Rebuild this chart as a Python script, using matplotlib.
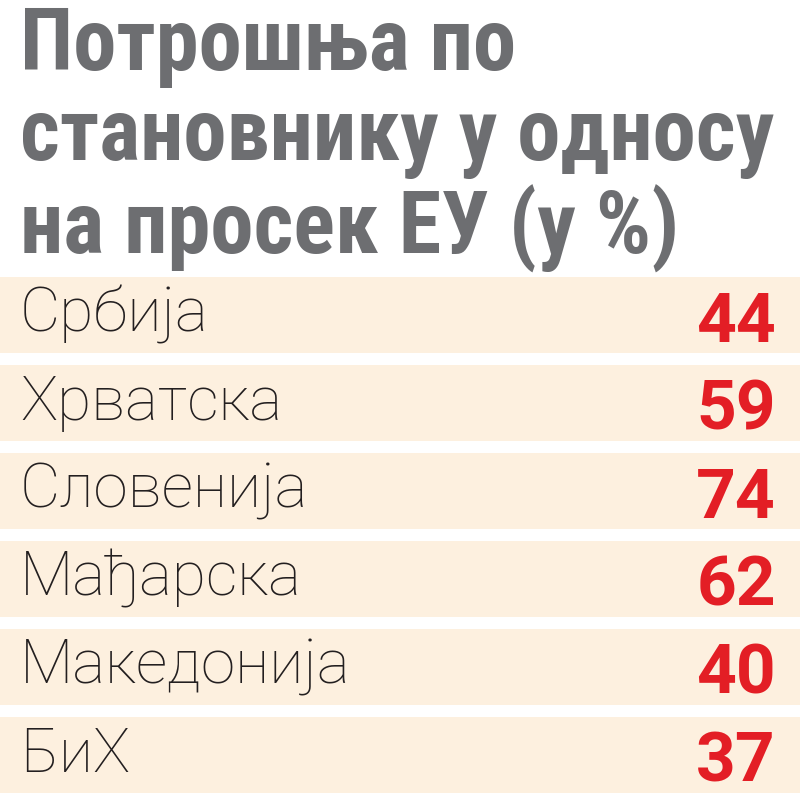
import matplotlib
matplotlib.use("Agg")
import matplotlib.pyplot as plt

# data
title_lines = ["Потрошња по", "становнику у односу", "на просек ЕУ (у %)"]
countries = ["Србија", "Хрватска", "Словенија", "Мађарска", "Македонија", "БиХ"]
values = [44, 59, 74, 62, 40, 37]

title_color = "#6d6e71"
band_color = "#fdf0df"
num_color = "#e31e25"
fam_title = ["Roboto Condensed", "Roboto", "DejaVu Sans"]
fam_num = ["Roboto", "DejaVu Sans"]
fam_light = ["Roboto", "DejaVu Sans"]

W, H = 800, 800
fig = plt.figure(figsize=(8, 8), dpi=100)
ax = fig.add_axes([0, 0, 1, 1])
ax.set_xlim(0, W)
ax.set_ylim(H, 0)
ax.axis("off")
renderer = fig.canvas.get_renderer()


def fit(t, target_w):
    # scale fontsize so the text spans target_w pixels
    bb = t.get_window_extent(renderer)
    t.set_fontsize(t.get_fontsize() * target_w / bb.width)


# title
baselines = [70, 160, 254]
title_texts = []
for line, yb in zip(title_lines, baselines):
    t = ax.text(20, yb, line, fontsize=58, fontweight="semibold", family=fam_title,
                color=title_color, ha="left", va="baseline")
    title_texts.append(t)
fit(title_texts[1], 752)
for t in title_texts:
    t.set_fontsize(title_texts[1].get_fontsize())

# rows
row_top0, row_step, row_h = 277, 88, 76
tops = [row_top0 + i * row_step for i in range(len(countries))]
ax.barh([tp + row_h / 2 for tp in tops], W, height=row_h, left=0,
        color=band_color, edgecolor="none", zorder=0)

labels = []
for name, val, tp in zip(countries, values, tops):
    lt = ax.text(20, tp + 55, name, fontsize=40, fontweight="light",
                 family=fam_light, color="#231f20", ha="left", va="baseline")
    labels.append(lt)
    ax.text(776, tp + 65, str(val), fontsize=50, fontweight="bold",
            family=fam_num, color=num_color, ha="right", va="baseline")
fit(labels[4], 330)
for lt in labels:
    lt.set_fontsize(labels[4].get_fontsize())

fig.savefig("out.png", dpi=100, facecolor="white")
